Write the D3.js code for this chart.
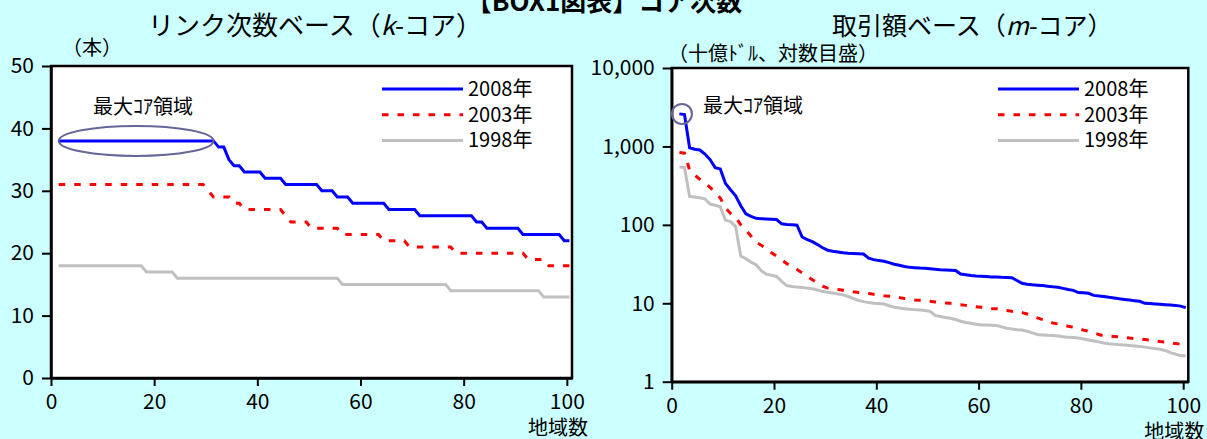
<!DOCTYPE html>
<html>
<head>
<meta charset="utf-8">
<script src="https://cdn.jsdelivr.net/npm/d3@7"></script>
<style>
  body { margin: 0; background: #ccffff; }
  svg text { font-family: "Liberation Sans Narrow", "Noto Sans CJK JP", sans-serif; fill: #000; }
</style>
</head>
<body>
<svg id="chart" width="1207" height="439"></svg>
<script>
// region rank (1 = largest core region)
var ranks = d3.range(1, 101);
var years = ['2008年', '2003年', '1998年'];
var xTicks = [0, 20, 40, 60, 80, 100];
var kTicks = [0, 10, 20, 30, 40, 50];
var mTicks = [1, 10, 100, 1000, 10000];

// k-core (link degree)
var kCore2008 = [
  38, 38, 38, 38, 38, 38, 38, 38, 38, 38,
  38, 38, 38, 38, 38, 38, 38, 38, 38, 38,
  38, 38, 38, 38, 38, 38, 38, 38, 38, 38,
  38, 37, 37, 35, 34, 34, 33, 33, 33, 33,
  32, 32, 32, 32, 31, 31, 31, 31, 31, 31,
  31, 30, 30, 30, 29, 29, 29, 28, 28, 28,
  28, 28, 28, 28, 27, 27, 27, 27, 27, 27,
  26, 26, 26, 26, 26, 26, 26, 26, 26, 26,
  26, 25, 25, 24, 24, 24, 24, 24, 24, 24,
  23, 23, 23, 23, 23, 23, 23, 23, 22, 22];
var kCore2003 = [
  31, 31, 31, 31, 31, 31, 31, 31, 31, 31,
  31, 31, 31, 31, 31, 31, 31, 31, 31, 31,
  31, 31, 31, 31, 31, 31, 31, 31, 31, 30,
  29, 29, 29, 29, 28, 28, 27, 27, 27, 27,
  27, 27, 27, 27, 26, 25, 25, 25, 25, 24,
  24, 24, 24, 24, 24, 23, 23, 23, 23, 23,
  23, 23, 23, 22, 22, 22, 22, 22, 21, 21,
  21, 21, 21, 21, 21, 21, 21, 20, 20, 20,
  20, 20, 20, 20, 20, 20, 20, 20, 20, 20,
  20, 19, 19, 19, 19, 18, 18, 18, 18, 18];
var kCore1998 = [
  18, 18, 18, 18, 18, 18, 18, 18, 18, 18,
  18, 18, 18, 18, 18, 18, 18, 17, 17, 17,
  17, 17, 17, 16, 16, 16, 16, 16, 16, 16,
  16, 16, 16, 16, 16, 16, 16, 16, 16, 16,
  16, 16, 16, 16, 16, 16, 16, 16, 16, 16,
  16, 16, 16, 16, 16, 15, 15, 15, 15, 15,
  15, 15, 15, 15, 15, 15, 15, 15, 15, 15,
  15, 15, 15, 15, 15, 15, 14, 14, 14, 14,
  14, 14, 14, 14, 14, 14, 14, 14, 14, 14,
  14, 14, 14, 14, 13, 13, 13, 13, 13, 13];

// m-core (trade value, billion USD)
var mCore2008 = [
  2600, 2550, 960, 920, 900, 800, 680, 536, 517, 338,
  280, 235, 175, 138, 128, 121, 120, 119, 118, 117,
  103, 101, 100, 99, 70, 65, 61, 56, 51, 47.5,
  46, 45, 44, 43.4, 43, 42.7, 42.5, 37.5, 36, 35,
  34.3, 33, 31.5, 30.5, 29.5, 28.7, 28.4, 28.1, 27.9, 27.6,
  27.2, 26.8, 26.6, 26.4, 26.2, 23.6, 23.1, 22.6, 22.3, 22.1,
  21.9, 21.7, 21.6, 21.4, 21.3, 21.2, 19.5, 18, 17.5, 17.2,
  17, 16.8, 16.5, 16.2, 16, 15.5, 15, 14.6, 13.7, 13.6,
  13.4, 12.6, 12.4, 12.2, 11.9, 11.7, 11.4, 11.2, 11, 10.8,
  10.6, 10, 9.9, 9.8, 9.7, 9.6, 9.5, 9.4, 9.2, 8.8];
var mCore2003 = [
  840, 820, 500, 430, 380, 345, 300, 260, 220, 165,
  140, 125, 100, 86, 72, 60, 55, 50, 44, 40,
  36, 32, 29.5, 27, 24.5, 22, 20, 18.2, 16.5, 15.6,
  15.3, 15, 14.7, 14.4, 14, 13.7, 13.5, 13.3, 13, 12.8,
  12.5, 12.3, 12.1, 11.8, 11.5, 11.3, 11, 10.9, 10.8, 10.6,
  10.4, 10.2, 10.1, 10, 9.8, 9.6, 9.4, 9.2, 9, 8.9,
  8.8, 8.6, 8.5, 8.3, 8.1, 7.9, 7.8, 7.6, 7.3, 6.9,
  6.5, 6.2, 5.9, 5.6, 5.45, 5.3, 5.1, 4.95, 4.75, 4.55,
  4.4, 4.2, 4, 3.85, 3.8, 3.77, 3.74, 3.68, 3.6, 3.55,
  3.5, 3.45, 3.4, 3.33, 3.25, 3.2, 3.13, 3.07, 3, 2.8];
var mCore1998 = [
  545, 540, 230, 226, 222, 215, 184, 178, 170, 115,
  110, 95, 40, 37, 33.5, 31, 26, 23.5, 22.8, 22,
  19, 16.8, 16.4, 16.1, 15.9, 15.6, 15.3, 14.8, 14.1, 13.8,
  13.5, 13.1, 12.8, 12.2, 11.5, 10.9, 10.5, 10.2, 10, 9.9,
  9.8, 9.3, 8.9, 8.7, 8.5, 8.4, 8.3, 8.2, 8.1, 7.9,
  7, 6.8, 6.6, 6.45, 6.2, 5.9, 5.7, 5.55, 5.4, 5.3,
  5.28, 5.25, 5.2, 5, 4.8, 4.7, 4.6, 4.55, 4.4, 4.2,
  4, 3.95, 3.9, 3.87, 3.83, 3.75, 3.7, 3.65, 3.6, 3.5,
  3.4, 3.3, 3.22, 3.12, 3.05, 3, 2.97, 2.93, 2.9, 2.86,
  2.82, 2.76, 2.7, 2.64, 2.59, 2.5, 2.35, 2.25, 2.15, 2.15];

var coreRange = [1, 31];   // ranks inside the largest k-core plateau

var svg = d3.select('#chart');
var styles = [
  {color: '#0000ff', dash: null},
  {color: '#ff0000', dash: '6.5,9'},
  {color: '#c0c0c0', dash: null}
];

// main title (clipped at the top, as in the source)
svg.append('text')
  .attr('x', 604).attr('y', 11)
  .attr('text-anchor', 'middle')
  .style('font-size', '26px').style('font-weight', 'bold')
  .text('【BOX1図表】コア次数');

function drawPanel(opt) {
  var g = svg.append('g');
  var x = d3.scaleLinear().domain([0, 101]).range([opt.left, opt.right]);
  var y = opt.y;
  // Excel category axis: each point sits mid-category
  var px = function(i) { return x(ranks[i] + 0.5); };

  g.append('rect')
    .attr('x', opt.left).attr('y', opt.top)
    .attr('width', opt.right - opt.left).attr('height', opt.bottom - opt.top)
    .attr('fill', '#fff').attr('stroke', '#000').attr('stroke-width', 2.5);

  var line = d3.line().x(function(d, i) { return px(i); }).y(function(d) { return y(d); });
  [2, 1, 0].forEach(function(k) {
    g.append('path')
      .attr('d', line(opt.series[k]))
      .attr('fill', 'none')
      .attr('stroke', styles[k].color)
      .attr('stroke-width', 3)
      .attr('stroke-dasharray', styles[k].dash);
  });

  var xAxis = d3.axisBottom(x).tickValues(xTicks).tickSize(8).tickSizeOuter(0).tickPadding(8);
  var ax = g.append('g').attr('transform', 'translate(0,' + opt.bottom + ')').call(xAxis);
  var yAxis = d3.axisLeft(y).tickValues(opt.ticks).tickSize(9).tickSizeOuter(0).tickPadding(8).tickFormat(opt.fmt);
  var ay = g.append('g').attr('transform', 'translate(' + opt.left + ',0)').call(yAxis);
  [ax, ay].forEach(function(a) {
    a.select('.domain').attr('stroke-width', 2.5);
    a.selectAll('.tick line').attr('stroke-width', 2);
    a.selectAll('.tick text').style('font-size', '21px');
  });

  // panel title, unit and axis name
  var t = g.append('text').attr('x', opt.titleX).attr('y', 35).style('font-size', opt.titleSize);
  t.append('tspan').text(opt.title[0]);
  t.append('tspan').style('font-style', 'italic').text(opt.title[1]);
  t.append('tspan').text(opt.title[2]);
  g.append('text').attr('x', opt.unitX).attr('y', opt.unitY).attr('dy', '0.35em')
    .style('font-size', '20px').text(opt.unit);
  g.append('text').attr('x', opt.right + 16).attr('y', opt.bottom + 50).attr('dy', '0.35em')
    .attr('text-anchor', 'end').style('font-size', '20px').text('地域数');

  // legend
  years.forEach(function(label, k) {
    var ly = 89 + k * 25.7;
    g.append('line')
      .attr('x1', opt.legendX).attr('x2', opt.legendX + 81)
      .attr('y1', ly).attr('y2', ly)
      .attr('stroke', styles[k].color).attr('stroke-width', 3)
      .attr('stroke-dasharray', styles[k].dash);
    g.append('text').attr('x', opt.legendX + 86).attr('y', ly).attr('dy', '0.35em')
      .style('font-size', '20px').text(label);
  });

  // "largest core" marker
  g.append('text').attr('x', opt.noteX).attr('y', opt.noteY).attr('dy', '0.35em')
    .style('font-size', '20px').text('最大ｺｱ領域');
  opt.marker(g, px, y);
}

drawPanel({
  left: 51, right: 572, top: 66, bottom: 378,
  y: d3.scaleLinear().domain([0, 50]).range([378, 66]),
  ticks: kTicks, fmt: d3.format('d'),
  series: [kCore2008, kCore2003, kCore1998],
  title: ['リンク次数ベース（', 'k', '-コア）'], titleX: 148, titleSize: '26px',
  unit: '（本）', unitX: 62, unitY: 48,
  legendX: 382, noteX: 93, noteY: 107,
  marker: function(g, px, y) {
    var x0 = px(coreRange[0] - 1), x1 = px(coreRange[1] - 1);
    g.append('ellipse')
      .attr('cx', (x0 + x1) / 2).attr('cy', y(kCore2008[0]))
      .attr('rx', (x1 - x0) / 2).attr('ry', 15)
      .attr('fill', 'none').attr('stroke', '#666699').attr('stroke-width', 2);
  }
});

drawPanel({
  left: 671.7, right: 1188.3, top: 68, bottom: 381.7,
  y: d3.scaleLog().domain([1, 10000]).range([381.7, 68]),
  ticks: mTicks, fmt: d3.format(','),
  series: [mCore2008, mCore2003, mCore1998],
  title: ['取引額ベース（', 'm', '-コア）'], titleX: 832, titleSize: '25px',
  unit: '（十億ﾄﾞﾙ、対数目盛）', unitX: 668, unitY: 54,
  legendX: 998, noteX: 703, noteY: 106,
  marker: function(g, px, y) {
    g.append('circle')
      .attr('cx', (px(0) + px(1)) / 2).attr('cy', y(mCore2008[0]))
      .attr('r', 10)
      .attr('fill', 'none').attr('stroke', '#666699').attr('stroke-width', 2);
  }
});
</script>
</body>
</html>
